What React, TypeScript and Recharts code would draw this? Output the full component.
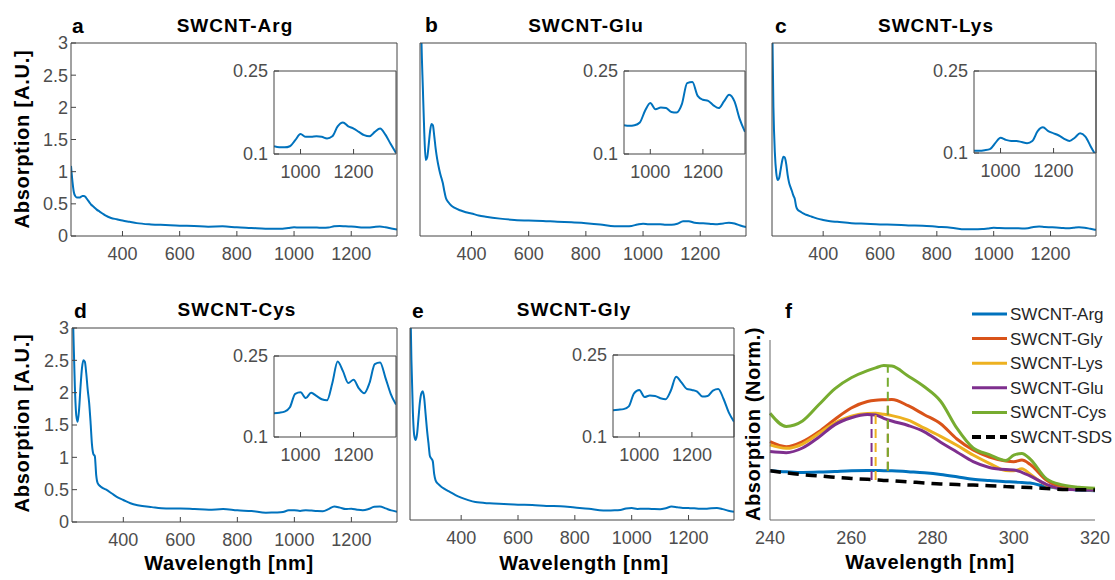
import React from 'react';
import { LineChart, Line, XAxis, YAxis, ReferenceLine } from 'recharts';

const FONT = '"Liberation Sans", Arial, Helvetica, sans-serif';
const BLUE = '#0072BD';
const AXIS = '#444444';
const TICK_TXT = '#4d4d4d';

// UV-Vis-NIR spectra, panels a-e (absorption in A.U.)
const wavelengths = [
  220, 225, 230, 235, 240, 245, 250, 255, 260, 265, 270, 275, 280, 285, 290, 295, 300, 305, 310,
  320, 330, 340, 360, 380, 400, 425, 450, 500, 550, 600, 650, 700, 750, 800, 850,
  900, 920, 940, 960, 980, 1000, 1020, 1040, 1060, 1080, 1100, 1120, 1140, 1160, 1180, 1200,
  1220, 1240, 1260, 1280, 1300, 1320, 1340, 1360,
];

const argAbs = [
  1.09, 0.85, 0.68, 0.62, 0.6, 0.6, 0.6, 0.61, 0.62, 0.62, 0.61, 0.58, 0.55, 0.52, 0.49, 0.47, 0.45, 0.43, 0.41,
  0.38, 0.35, 0.32, 0.28, 0.26, 0.24, 0.22, 0.2, 0.18, 0.17, 0.16, 0.155, 0.145, 0.15, 0.135, 0.125,
  0.114, 0.112, 0.112, 0.114, 0.125, 0.136, 0.131, 0.131, 0.132, 0.131, 0.128, 0.132, 0.15, 0.157, 0.15, 0.146,
  0.14, 0.134, 0.132, 0.14, 0.146, 0.135, 0.118, 0.102,
];
const gluAbs = [
  4.5, 3.05, 2.3, 1.6, 1.18, 1.22, 1.4, 1.62, 1.74, 1.72, 1.55, 1.35, 1.2, 1.08, 0.98, 0.9, 0.82, 0.7, 0.6,
  0.52, 0.47, 0.44, 0.4, 0.37, 0.35, 0.32, 0.3, 0.27, 0.25, 0.24, 0.235, 0.22, 0.215, 0.2, 0.18,
  0.152, 0.151, 0.152, 0.157, 0.178, 0.192, 0.181, 0.184, 0.183, 0.176, 0.175, 0.19, 0.228, 0.23, 0.205, 0.198,
  0.196, 0.188, 0.183, 0.195, 0.207, 0.195, 0.163, 0.14,
];
const lysAbs = [
  3.6, 2.0, 1.3, 0.98, 0.87, 0.9, 1.02, 1.15, 1.23, 1.22, 1.12, 0.95, 0.83, 0.76, 0.7, 0.63, 0.58, 0.46, 0.41,
  0.38, 0.35, 0.33, 0.3, 0.27, 0.25, 0.23, 0.22, 0.2, 0.19, 0.18, 0.175, 0.165, 0.16, 0.145, 0.13,
  0.104, 0.104, 0.105, 0.107, 0.118, 0.128, 0.124, 0.122, 0.122, 0.12, 0.118, 0.122, 0.14, 0.147, 0.14, 0.136,
  0.132, 0.126, 0.122, 0.128, 0.136, 0.13, 0.112, 0.095,
];
const cysAbs = [
  3.8, 2.9, 2.1, 1.65, 1.55, 1.75, 2.1, 2.38, 2.5, 2.48, 2.3, 2.05, 1.85, 1.55, 1.2, 1.05, 1.02, 0.72, 0.6,
  0.55, 0.52, 0.5, 0.44, 0.38, 0.34, 0.29, 0.26, 0.23, 0.21, 0.21, 0.2, 0.19, 0.2, 0.18, 0.17,
  0.144, 0.145, 0.147, 0.155, 0.18, 0.183, 0.172, 0.182, 0.176, 0.17, 0.168, 0.2, 0.24, 0.222, 0.2, 0.206,
  0.19, 0.181, 0.2, 0.235, 0.238, 0.21, 0.18, 0.16,
];
const glyAbs = [
  3.7, 2.5, 1.7, 1.32, 1.25, 1.35, 1.6, 1.85, 1.98, 2.01, 1.9, 1.65, 1.4, 1.2, 1.0, 0.96, 0.92, 0.72, 0.62,
  0.56, 0.52, 0.49, 0.44, 0.39, 0.35, 0.31, 0.28, 0.26, 0.25, 0.24, 0.235, 0.22, 0.215, 0.195, 0.175,
  0.149, 0.15, 0.151, 0.156, 0.18, 0.186, 0.173, 0.176, 0.175, 0.171, 0.169, 0.185, 0.21, 0.2, 0.188, 0.186,
  0.183, 0.174, 0.175, 0.185, 0.188, 0.17, 0.145, 0.128,
];

const mainXDomain = [220, 1360];
const mainXTicks = [400, 600, 800, 1000, 1200];
const mainYDomain = [0, 3];
const mainYTicks = [0, 0.5, 1, 1.5, 2, 2.5, 3];
const insetXDomain = [900, 1360];
const insetXTicks = [1000, 1200];
const insetYDomain = [0.1, 0.25];
const insetYTicks = [0.1, 0.25];

// panel f, normalised absorption near the pi-plasmon
const fWavelengths = [240, 244, 248, 252, 256, 260, 264, 266, 268, 270, 274, 278, 282, 286, 290, 294, 298, 300, 302, 304, 308, 312, 316, 320];
const fArg = [0.274, 0.268, 0.264, 0.266, 0.27, 0.274, 0.275, 0.275, 0.274, 0.274, 0.268, 0.262, 0.253, 0.24, 0.226, 0.219, 0.213, 0.211, 0.208, 0.205, 0.186, 0.175, 0.166, 0.163];
const fGly = [0.435, 0.407, 0.435, 0.49, 0.56, 0.622, 0.658, 0.665, 0.668, 0.67, 0.635, 0.585, 0.535, 0.45, 0.389, 0.35, 0.328, 0.324, 0.333, 0.31, 0.222, 0.183, 0.175, 0.17];
const fLys = [0.417, 0.398, 0.422, 0.48, 0.54, 0.577, 0.592, 0.593, 0.587, 0.58, 0.555, 0.51, 0.465, 0.415, 0.361, 0.315, 0.275, 0.273, 0.285, 0.255, 0.194, 0.175, 0.169, 0.167];
const fGlu = [0.38, 0.374, 0.4, 0.46, 0.53, 0.568, 0.586, 0.583, 0.565, 0.55, 0.525, 0.49, 0.432, 0.378, 0.324, 0.292, 0.28, 0.278, 0.265, 0.245, 0.198, 0.172, 0.168, 0.167];
const fCys = [0.593, 0.52, 0.55, 0.64, 0.73, 0.79, 0.83, 0.845, 0.858, 0.855, 0.8, 0.74, 0.66, 0.51, 0.4, 0.363, 0.33, 0.36, 0.37, 0.34, 0.23, 0.195, 0.182, 0.176];
const fSds = [0.274, 0.262, 0.252, 0.245, 0.237, 0.231, 0.226, 0.223, 0.22, 0.218, 0.212, 0.206, 0.2, 0.197, 0.194, 0.19, 0.186, 0.184, 0.182, 0.18, 0.175, 0.17, 0.168, 0.167];
const fNames = ['SWCNT-Arg', 'SWCNT-Gly', 'SWCNT-Lys', 'SWCNT-Glu', 'SWCNT-Cys', 'SWCNT-SDS'];
const fKeys = ['arg', 'gly', 'lys', 'glu', 'cys', 'sds'];
const fColors = ['#0072BD', '#D95319', '#EDB120', '#7E2F8E', '#77AC30', '#000000'];
const fXTicks = [240, 260, 280, 300, 320];

// peak markers: wavelength, bottom, top
const peakNames = ['SWCNT-Gly', 'SWCNT-Cys', 'SWCNT-Lys', 'SWCNT-Glu'];
const peakWl = [269, 269, 266, 265];
const peakLow = [0.274, 0.274, 0.222, 0.222];
const peakHigh = [0.67, 0.86, 0.593, 0.587];
const peakColors = ['#D95319', '#77AC30', '#EDB120', '#7E2F8E'];

type Box = { x: number; y: number; w: number; h: number };

const M = { l: 60, t: 12, r: 12, b: 40 };
const tickFont = { fill: TICK_TXT, fontSize: 18, fontFamily: FONT };

// one boxed axes (main spectrum or inset), matlab style ticks pointing inwards
function BoxedPlot({ data, box, xDomain, xTicks, yDomain, yTicks, yLabels, yMargin }: {
  data: { wl: number; abs: number }[]; box: Box; xDomain: number[]; xTicks: number[];
  yDomain: number[]; yTicks: number[]; yLabels: boolean; yMargin: number;
}) {
  return (
    <div style={{ position: 'absolute', left: box.x - M.l, top: box.y - M.t }}>
      <LineChart
        width={box.w + M.l + M.r}
        height={box.h + M.t + M.b}
        data={data}
        margin={{ top: M.t - 1, right: M.r - 1, bottom: 0, left: 0 }}
      >
        <XAxis xAxisId="b" dataKey="wl" type="number" domain={xDomain} ticks={xTicks} interval={0}
          height={M.b} tickSize={-5} tickMargin={16} stroke={AXIS} tick={tickFont} allowDataOverflow />
        <XAxis xAxisId="t" orientation="top" dataKey="wl" type="number" domain={xDomain} ticks={xTicks}
          interval={0} height={1} tickSize={-5} tick={false} stroke={AXIS} allowDataOverflow />
        <YAxis yAxisId="l" type="number" domain={yDomain} ticks={yTicks} interval={0} width={M.l}
          tickSize={-5} tickMargin={yMargin} stroke={AXIS} tick={yLabels ? tickFont : false} allowDataOverflow />
        <YAxis yAxisId="r" orientation="right" type="number" domain={yDomain} ticks={yTicks} interval={0}
          width={1} tickSize={-5} tick={false} stroke={AXIS} allowDataOverflow />
        <Line xAxisId="b" yAxisId="l" type="monotone" dataKey="abs" stroke={BLUE} strokeWidth={2}
          dot={false} isAnimationActive={false} />
      </LineChart>
    </div>
  );
}

function Spectrum({ values, box, inset, yLabels }: { values: number[]; box: Box; inset: Box; yLabels: boolean }) {
  const data = wavelengths.map((wl, i) => ({ wl, abs: values[i] }));
  const zoomData = data.filter((d) => d.wl >= insetXDomain[0]);
  return (
    <>
      <BoxedPlot data={data} box={box} xDomain={mainXDomain} xTicks={mainXTicks} yDomain={mainYDomain}
        yTicks={mainYTicks} yLabels={yLabels} yMargin={8} />
      <BoxedPlot data={zoomData} box={inset} xDomain={insetXDomain} xTicks={insetXTicks} yDomain={insetYDomain}
        yTicks={insetYTicks} yLabels yMargin={11} />
    </>
  );
}

function NormPanel({ box }: { box: Box }) {
  const series = [fArg, fGly, fLys, fGlu, fCys, fSds];
  const data = fWavelengths.map((wl, i) => {
    const row: Record<string, number> = { wl };
    fKeys.forEach((k, j) => (row[k] = series[j][i]));
    return row;
  });
  return (
    <div style={{ position: 'absolute', left: box.x - M.l, top: box.y - M.t }}>
      <LineChart
        width={box.w + M.l + 20}
        height={box.h + M.t + M.b}
        data={data}
        margin={{ top: M.t, right: 20, bottom: 0, left: 0 }}
      >
        <XAxis dataKey="wl" type="number" domain={[240, 320]} ticks={fXTicks} interval={0} height={M.b}
          tickLine={false} tickSize={0} tickMargin={11} stroke="#666" tick={tickFont} />
        <YAxis type="number" domain={[0, 1]} width={M.l} tick={false} tickLine={false} stroke="#666" />
        {fKeys.map((k, j) => (
          <Line key={k} type="monotone" dataKey={k} stroke={fColors[j]} strokeWidth={k === 'sds' ? 3.5 : 3}
            strokeDasharray={k === 'sds' ? '11 7' : undefined} dot={false} isAnimationActive={false} />
        ))}
        {peakNames.map((n, i) => (
          <ReferenceLine key={n} segment={[{ x: peakWl[i], y: peakLow[i] }, { x: peakWl[i], y: peakHigh[i] }]}
            stroke={peakColors[i]} strokeWidth={2} strokeDasharray="9 5" />
        ))}
      </LineChart>
    </div>
  );
}

const titles = [
  { t: 'SWCNT-Arg', x: 235, y: 32 },
  { t: 'SWCNT-Glu', x: 586, y: 32 },
  { t: 'SWCNT-Lys', x: 936, y: 32 },
  { t: 'SWCNT-Cys', x: 237, y: 316 },
  { t: 'SWCNT-Gly', x: 574, y: 316 },
];
const letters = [
  { t: 'a', x: 72, y: 33 },
  { t: 'b', x: 425, y: 32 },
  { t: 'c', x: 775, y: 33 },
  { t: 'd', x: 74, y: 318 },
  { t: 'e', x: 412, y: 318 },
  { t: 'f', x: 785, y: 318 },
];

export default function App() {
  const bold = { fontFamily: FONT, fontWeight: 700, fill: '#000' } as const;
  return (
    <div style={{ position: 'absolute', left: 0, top: 0, width: 1115, height: 580, background: '#fff', overflow: 'hidden' }}>
      <Spectrum values={argAbs} box={{ x: 71, y: 43, w: 326, h: 193 }} inset={{ x: 274, y: 71, w: 122, h: 83 }} yLabels />
      <Spectrum values={gluAbs} box={{ x: 420, y: 43, w: 326, h: 193 }} inset={{ x: 624, y: 71, w: 121, h: 83 }} yLabels={false} />
      <Spectrum values={lysAbs} box={{ x: 772, y: 43, w: 324, h: 193 }} inset={{ x: 974, y: 71, w: 122, h: 82 }} yLabels={false} />
      <Spectrum values={cysAbs} box={{ x: 72, y: 328, w: 325, h: 194 }} inset={{ x: 274, y: 356, w: 122, h: 81 }} yLabels />
      <Spectrum values={glyAbs} box={{ x: 410, y: 328, w: 324, h: 192 }} inset={{ x: 613, y: 355, w: 121, h: 82 }} yLabels={false} />
      <NormPanel box={{ x: 770, y: 340, w: 325, h: 180 }} />
      <svg width={1115} height={580} style={{ position: 'absolute', left: 0, top: 0, pointerEvents: 'none' }}>
        {titles.map((d) => (
          <text key={d.t} x={d.x} y={d.y} textAnchor="middle" fontSize={19} letterSpacing={1} {...bold}>{d.t}</text>
        ))}
        {letters.map((d) => (
          <text key={d.t} x={d.x} y={d.y} fontSize={21} {...bold}>{d.t}</text>
        ))}
        <text transform="translate(29,139) rotate(-90)" textAnchor="middle" fontSize={20} letterSpacing={0.8} {...bold}>Absorption [A.U.]</text>
        <text transform="translate(29,423) rotate(-90)" textAnchor="middle" fontSize={20} letterSpacing={0.8} {...bold}>Absorption [A.U.]</text>
        <text transform="translate(760,424) rotate(-90)" textAnchor="middle" fontSize={20} letterSpacing={0.6} {...bold}>Absorption (Norm.)</text>
        <text x={229} y={570} textAnchor="middle" fontSize={20} letterSpacing={0.6} {...bold}>Wavelength [nm]</text>
        <text x={584} y={570} textAnchor="middle" fontSize={20} letterSpacing={0.6} {...bold}>Wavelength [nm]</text>
        <text x={930} y={569} textAnchor="middle" fontSize={20} letterSpacing={0.6} {...bold}>Wavelength [nm]</text>
        {fNames.map((n, i) => {
          const y = 314 + i * 24.6;
          return (
            <g key={n}>
              <line x1={972} x2={1007} y1={y} y2={y} stroke={fColors[i]} strokeWidth={i === 5 ? 4 : 3}
                strokeDasharray={i === 5 ? '9 5' : undefined} />
              <text x={1010} y={y + 6} fontSize={17} fontFamily={FONT} fill="#262626">{n}</text>
            </g>
          );
        })}
      </svg>
    </div>
  );
}
